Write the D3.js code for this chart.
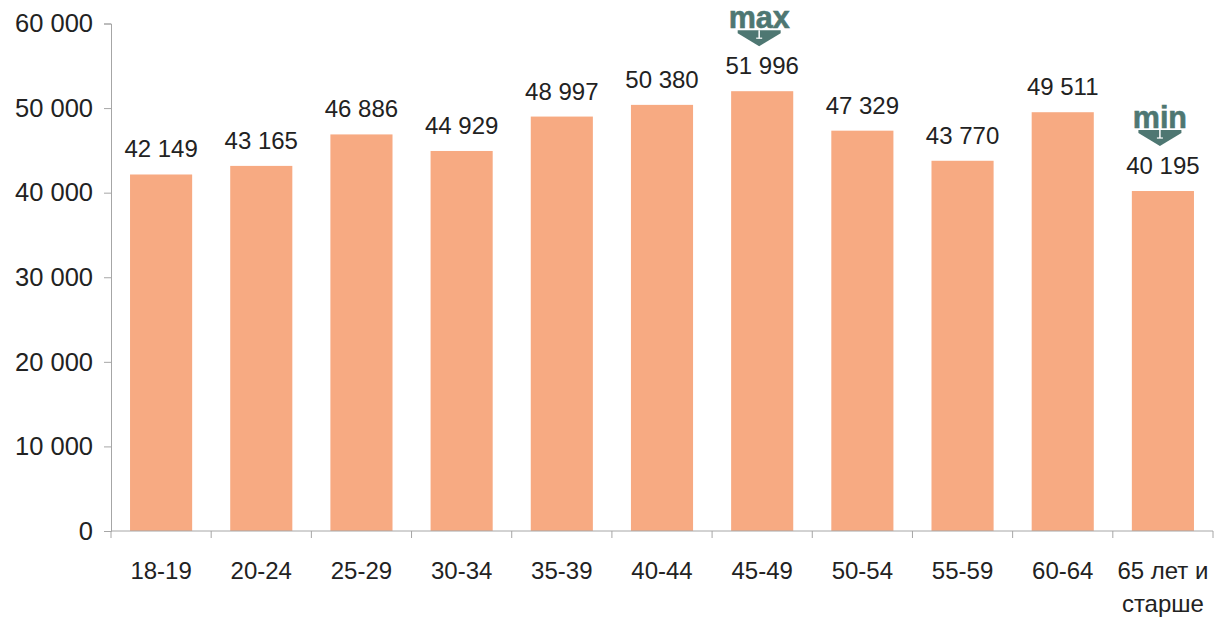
<!DOCTYPE html>
<html><head><meta charset="utf-8">
<script src="https://cdn.jsdelivr.net/npm/d3@7"></script>
<style>
html,body{margin:0;padding:0;background:#fff;}
text{font-family:"Liberation Sans",Arial,sans-serif;}
</style></head>
<body><svg id="c" width="1217" height="617"></svg>
<script>
const categories = ["18-19","20-24","25-29","30-34","35-39","40-44","45-49","50-54","55-59","60-64","65 лет и|старше"];
const values = [42149,43165,46886,44929,48997,50380,51996,47329,43770,49511,40195];
const yTicks = [0,10000,20000,30000,40000,50000,60000];

const svg = d3.select("#c");
const x = d3.scaleBand().domain(categories).range([111,1213]).paddingInner(0.38).paddingOuter(0.19);
const y = d3.scaleLinear().domain([0,60000]).range([531,23.5]);
const fmt = v => d3.format(",")(v).replace(/,/g," ");
const axisColor = "#a6a6a6", textColor = "#222";

// bars
svg.selectAll("rect.bar").data(values).join("rect")
  .attr("class","bar")
  .attr("x",(d,i)=>x(categories[i]))
  .attr("width",x.bandwidth())
  .attr("y",d=>y(d))
  .attr("height",d=>y(0)-y(d))
  .attr("fill","#F7AA82");

// y axis
const ya = svg.append("g").attr("transform","translate(111,0)")
  .call(d3.axisLeft(y).tickValues(yTicks).tickFormat(fmt).tickSizeOuter(0).tickSize(7).tickPadding(11));
ya.select(".domain").attr("stroke",axisColor);
ya.selectAll(".tick line").attr("stroke",axisColor);
ya.selectAll(".tick text").attr("fill",textColor).attr("font-size",25.5).attr("font-family","Liberation Sans, Arial, sans-serif");

// x axis line + boundary ticks
const xa = svg.append("g");
xa.append("line").attr("x1",111).attr("x2",1213).attr("y1",y(0)).attr("y2",y(0)).attr("stroke",axisColor);
const bounds = categories.map(c=>x(c)-x.step()*x.paddingInner()/2).concat([1213]);
xa.selectAll("line.t").data(bounds).join("line").attr("class","t")
  .attr("x1",d=>d).attr("x2",d=>d).attr("y1",y(0)).attr("y2",y(0)+7).attr("stroke",axisColor);
xa.selectAll("text.xl").data(categories).join("text").attr("class","xl")
  .attr("x",d=>x(d)+x.bandwidth()/2)
  .attr("y",579)
  .attr("text-anchor","middle").attr("font-size",24).attr("fill",textColor)
  .each(function(d){
    const parts = d.split("|");
    d3.select(this).selectAll("tspan").data(parts).join("tspan")
      .attr("x",x(d)+x.bandwidth()/2).attr("dy",(p,j)=>j?33:0).text(p=>p);
  });

// value labels
svg.selectAll("text.vl").data(values).join("text").attr("class","vl")
  .attr("x",(d,i)=>x(categories[i])+x.bandwidth()/2)
  .attr("y",d=>y(d)-17)
  .attr("text-anchor","middle").attr("font-size",24).attr("fill",textColor)
  .text(fmt);

// max / min markers
const markColor = "#4E7772";
const marks = [{i:d3.maxIndex(values),t:"max"},{i:d3.minIndex(values),t:"min"}];
marks.forEach(m=>{
  const cx = x(categories[m.i])+x.bandwidth()/2 - 3;
  const base = y(values[m.i]) - 17;
  const apex = base - 28, top = apex - 16, hw = 21.5;
  const g = svg.append("g");
  g.append("path").attr("d",`M${cx-hw},${top}L${cx+hw},${top}L${cx+hw},${top+3}L${cx},${apex}L${cx-hw},${top+3}Z`).attr("fill",markColor);
  g.append("line").attr("x1",cx).attr("x2",cx).attr("y1",top).attr("y2",top+8).attr("stroke","#fff").attr("stroke-width",1.5);
  g.append("line").attr("x1",cx-3).attr("x2",cx+3).attr("y1",top+8).attr("y2",top+8).attr("stroke","#fff").attr("stroke-width",1.2);
  g.append("text").attr("x",cx).attr("y",top-2).attr("text-anchor","middle")
    .attr("font-size",30.5).attr("font-weight","bold").attr("fill",markColor)
    .attr("stroke",markColor).attr("stroke-width",0.6).text(m.t);
});
</script></body></html>
